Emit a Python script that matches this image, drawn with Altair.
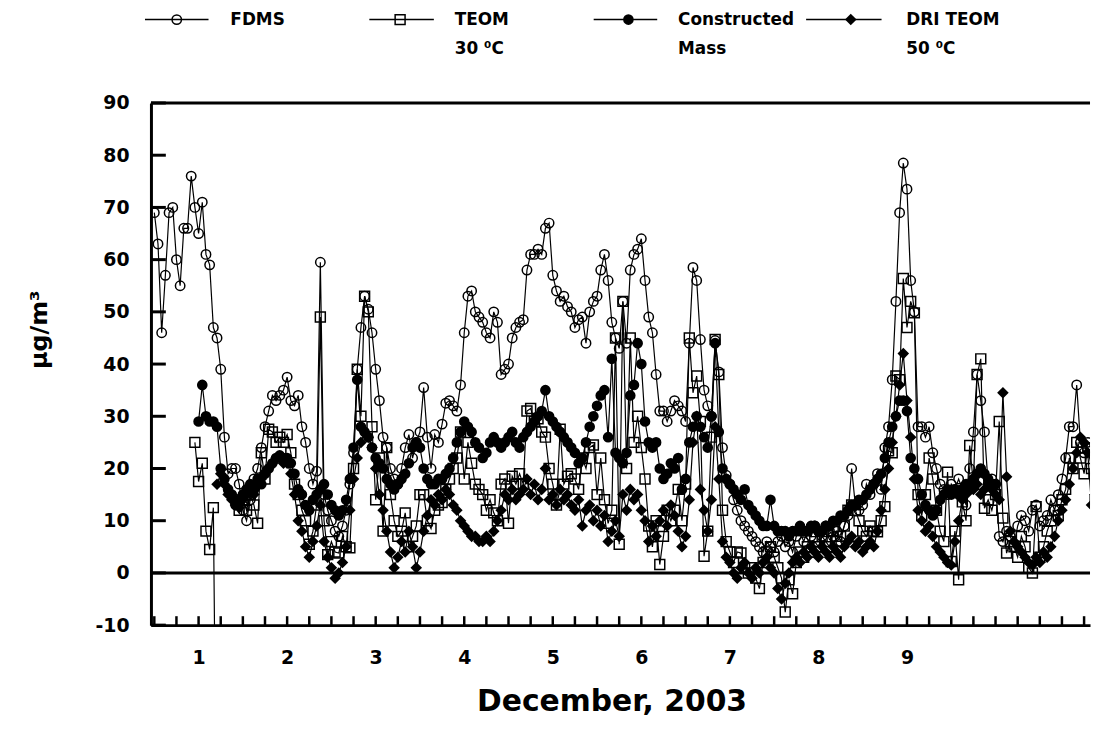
import altair as alt
import pandas as pd

N = None
# Hourly readings, starting at day 0.5 (one value per hour)
fdms = [
    69, 63, 46, 57, 69, 70, 60, 55, 66, 66, 76, 70,
    65, 71, 61, 59, 47, 45, 39, 26, 19, 20, 20, 17,
    12, 10, 14, 18, 20, 24, 28, 31, 34, 33, 34, 35,
    37.5, 33, 32, 34, 28, 25, 20, 17, 19.5, 59.5, 15, 12,
    10, 8, 7, 9, 12, 17, 23, 39, 47, 53, 50.5, 46,
    39, 33, 26, 24, 20, 18, 17, 20, 24, 26.5, 22, 25,
    27, 35.5, 26, 20, 26.5, 25, 28.5, 32.5, 33, 32, 31, 36,
    46, 53, 54, 50, 49, 48, 46, 45, 50, 48, 38, 39,
    40, 45, 47, 48, 48.5, 58, 61, 61, 62, 61, 66, 67,
    57, 54, 52, 53, 51, 50, 47, 48.5, 49, 44, 50, 52,
    53, 58, 61, 56, 48, 45, 43, 52, 44, 58, 61, 62,
    64, 56, 49, 46, 38, 31, 31, 29, 31, 33, 32, 31,
    29, 44, 58.5, 56, 44.7, 35, 32, 30, 44.5, 38.5, 24, 18.7,
    17, 14, 12, 10, 9, 8, 7, 6, 5, 4, 6, 5,
    4, 6, 7, 5, 6, 4, 7, 8, 6, 8, 7, 9,
    8, 7, 9, 8, 7, 8, 6, 9, 11, 20, 13, 12,
    13, 17, 15, 17, 19, 16, 24, 28, 37, 52, 69, 78.5,
    73.5, 56, 50, 28, 28, 26, 28, 23, 20, 17, 16, 15,
    17, 16, 18, 16, 13, 20, 27, 38, 33, 27, 17, 18,
    17, 7, 6, 8, 7, 5, 9, 11, 10, 8, 12, 13,
    9, 10, 11, 14, 12, 15, 18, 22, 28, 28, 36, 25,
    23, 25, 24, 19, 18,
]
teom = [
    N, N, N, N, N, N, N, N, N, N, N, 25,
    17.5, 21, 8, 4.5, 12.5, -60, N, N, N, N, N, 12,
    14, 12, 15, 13, 9.5, 23, 18, 27.5, 27, 25, 26, 25,
    26.5, 23, 17, 15, 12, 10, 5.5, 8, 13, 49, 10, 3.5,
    6, 4, 3.8, 7, 5, 4.8, 20, 39, 30, 53, 50, 28,
    14, 22, 8, 24, 15, 10, 7, 8, 11.5, 5, 7, 9,
    15, 15, 10, 8.5, 12, 13, 13.5, 16, 18, 20, 22, 27,
    18, 25, 21, 17, 16, 15, 12, 14, 11.5, 10, 17, 18,
    9.5, 18.5, 17, 19, 17, 31, 31.5, 29, 29.5, 27, 26, 20,
    17, 13, 27.5, 17, 18.5, 19, 18, 16, 22, 20, 24, 24.5,
    15, 22, 14, 9.5, 12, 45, 5.5, 52, 20, 45, 25, 30,
    24, 18, 9, 5, 10, 1.6, 7, 12, 10, 12, 16, 10,
    17, 45, 34.5, 37.7, 29, 3.2, 8, 26, 44.7, 38, 12, 6,
    4, 2, 4, 3.8, 1, 0, 1, -1, -3, 2, 4, 5,
    3, 1, -1, -7.5, -1.3, -4, 2, 4, 3, 5, 4, 6,
    5, 7, 6, 5, 8, 6, 7, 9, 12, 13, 12, 10,
    8, 7, 9, 8, 7.9, 10, 12.7, 23.4, 23, 37.7, 37, 56.4,
    47, 52, 49.8, 15, 11, 15, 22, 18, 12, 8, 6, 19.3,
    2.2, 8, -1.3, 13.6, 10, 24.4, 17, 38, 41, 12.4, 14, 12,
    15, 29, 10.5, 3.8, 6, 5, 3, 7, 5, 1, 0, 12.7,
    3, 5, 8, 10, 12, 11, 14, 16, 22, 20, 25, 22,
    19, 24, 20, 14, 15,
]
constructed = [
    N, N, N, N, N, N, N, N, N, N, N, N,
    29, 36, 30, 29, 29, 28, 20, 18, 16, 15, 13, 14,
    15, 16, 17, 16, 18, 17, 19, 20, 21, 22, 22.5, 22,
    22, 21, 19, 16, 15, 13, 12, 14, 15, 16, 17, 15,
    13, 12, 11, 12, 14, 18, 24, 37, 28, 27, 26, 24,
    22, 21, 20, 18, 17, 16, 17, 18, 19, 21, 24, 25,
    24, 20, 18, 17, 17, 18, 18, 19, 20, 22, 25, 27,
    29, 28, 27, 25, 24, 22, 23, 25, 26, 25, 24, 25,
    26, 27, 25, 24, 26, 27, 28, 29, 30, 31, 35, 30,
    29, 28, 27, 26, 25, 24, 23, 21, 22, 25, 28, 30,
    32, 34, 35, 26, 41, 23, 22, 21, 23, 34, 36, 44,
    40, 29, 25, 24, 25, 20, 18, 19, 21, 20, 22, 16,
    18, 25, 28, 30, 28, 26, 24, 30, 44, 27, 20, 18,
    17, 16, 15, 14, 16, 13, 12, 11, 10, 9, 9, 14,
    9, 8, 8, 8, 7, 8, 8, 9, 8, 8, 9, 9,
    8, 8, 9, 9, 10, 10, 11, 11, 12, 13, 13, 14,
    14, 15, 16, 17, 18, 19, 22, 25, 28, 30, 33, 33,
    31, 22, 20, 18, 15, 13, 12, 11, 12, 14, 15, 16,
    15, 16, 15, 16, 17, 16, 18, 19, 20, 19, 18, 17,
    17,
]
dri = [
    N, N, N, N, N, N, N, N, N, N, N, N,
    N, N, N, N, N, 17, 19, 17, 15, 14, 13, 12.5,
    14, 15, 16, 15, 17, 18, 19, 20, 21, 22, 22, 21,
    21, 19, 15, 10, 8, 5, 3, 6, 9, 13, 6, 3,
    1, -1, 0, 2, 5, 12, 18, 22, 25, 27, 26, 24,
    20, 15, 12, 8, 4, 1, 3, 6, 4, 8, 5, 1,
    4, 8, 11, 14, 13, 15, 14, 16, 15, 13, 12, 10,
    9, 8, 7, 7, 6, 6, 7, 6, 8, 10, 12, 15,
    14, 16, 14, 15, 16, 18, 15, 17, 14, 16, 20, 14,
    15, 13, 16, 14, 15, 13, 12, 14, 9, 12, 13, 10,
    12, 9, 11, 6, 8, 10, 7, 15, 12, 16, 14, 15,
    12, 10, 6, 9, 7, 10, 12, 9, 13, 11, 8, 5,
    7, 14, 25, 30, 16, 12, 8, 14, 28, 18, 6, 3,
    2, 0, -1, 1, 2, 0, -1, 1, 0, 2, 3, 1,
    0, -3, -5, -2, 0, 2, 3, 2, 4, 3, 5, 4,
    3, 5, 4, 3, 5, 4, 3, 5, 6, 7, 5, 6,
    4, 5, 6, 5, 8, 12, 16, 20, 25, 30, 36, 42,
    33, 26, 18, 12, 10, 8, 9, 7, 5, 4, 3, 2,
    1.5, 6, 10, 14, 15, 16, 16, 17, 15, 16, 17, 16,
    15, 14, 34.5, 18.4, 8, 6, 5, 4, 3, 2, 1.5, 3,
    2, 4, 3, 5, 7, 10, 12, 14, 17, 20, 23, 26,
    25, 23, 13, 15, 13,
]

day_labels = [1, 2, 3, 4, 5, 6, 7, 8, 9]
y_ticks = [-10, 0, 10, 20, 30, 40, 50, 60, 70, 80, 90]
minor_days = [0.5 + 0.25 * i for i in range(43)]
frame_lines = [0, 90]

legend_line1 = ["FDMS", "TEOM", "Constructed", "DRI TEOM"]
legend_line2 = ["", "30 \u2070C", "Mass", "50 \u2070C"]

START_DAY = 0.5
STEP = 1 / 24


def to_rows(name, vals):
    rows = []
    seg = 0
    for i, v in enumerate(vals):
        if v is None:
            seg += 1
            continue
        rows.append({"t": START_DAY + i * STEP, "v": v, "series": name, "seg": f"{name}-{seg}"})
    return rows


df = pd.DataFrame(
    to_rows("FDMS", fdms) + to_rows("TEOM", teom)
    + to_rows("Constructed", constructed) + to_rows("DRI", dri)
)

FONT = "DejaVu Sans"
W, H = 946, 526
xs = alt.Scale(domain=[0.462, 11.067], nice=False, zero=False)
ys = alt.Scale(domain=[-10, 90], nice=False, zero=False)

x_axis = alt.Axis(
    values=day_labels, format="d", title="December, 2003",
    titleFont=FONT, titleFontSize=30, titleFontWeight="bold", titleColor="black",
    titleX=464, titleY=86, titleAlign="center", titleBaseline="alphabetic",
    labelFont=FONT, labelFontSize=19, labelFontWeight="bold", labelColor="black",
    labelPadding=24, ticks=False, tickSize=0, grid=False,
    domainColor="black", domainWidth=3, labelFlush=False, labelOverlap=False,
)
y_axis = alt.Axis(
    values=y_ticks, title="\u00b5g/m\u00b3", labelExpr="'' + datum.value",
    titleFont=FONT, titleFontSize=24, titleFontWeight="bold", titleColor="black",
    titleAngle=270, titleX=-112, titleY=228, titleAlign="center", titleBaseline="middle",
    labelFont=FONT, labelFontSize=19, labelFontWeight="bold", labelColor="black",
    labelPadding=22, ticks=False, tickSize=0, grid=False,
    domainColor="black", domainWidth=3, labelFlush=False, labelOverlap=False,
)


def X(field):
    return alt.X(field, scale=xs, axis=x_axis, title="December, 2003")


def Y(field):
    return alt.Y(field, scale=ys, axis=y_axis, title="\u00b5g/m\u00b3")


base = alt.Chart(df)

lines = base.mark_line(color="black", strokeWidth=1.2, clip=True).encode(
    x=X("t:Q"), y=Y("v:Q"), detail="seg:N",
)


def pts(name, shape, filled, size):
    return base.transform_filter(alt.datum.series == name).mark_point(
        shape=shape, filled=filled, size=size, color="black",
        strokeWidth=1.5, opacity=1, clip=True,
    ).encode(x=X("t:Q"), y=Y("v:Q"))


p_fdms = pts("FDMS", "circle", False, 90)
p_teom = pts("TEOM", "square", False, 100)
p_con = pts("Constructed", "circle", True, 115)
p_dri = pts("DRI", "diamond", True, 135)

frame = alt.Chart(pd.DataFrame({"v": frame_lines})).mark_rule(
    color="black", strokeWidth=3
).encode(y=Y("v:Q"))

bottom_ticks = alt.Chart(pd.DataFrame({"t": minor_days})).mark_rule(
    color="black", strokeWidth=2.5
).encode(x=X("t:Q"), y=alt.value(H), y2=alt.value(H - 9))

left_ticks = alt.Chart(pd.DataFrame({"v": y_ticks})).mark_rule(
    color="black", strokeWidth=3
).encode(y=Y("v:Q"), x=alt.value(0), x2=alt.value(15))

# Legend (layout positions in pixels relative to the plot area)
one = pd.DataFrame({"k": [0]})
ROW1, ROW2 = -84, -54
leg_line_x = [(-6, 58), (220, 285), (446, 510), (660, 736)]
leg_sym_x = [26, 251, 481, 705]
leg_text_x = [80, 306, 531, 761]
leg_shapes = [("circle", False, 90), ("square", False, 100), ("circle", True, 115), ("diamond", True, 135)]

legend_layers = []
for i in range(4):
    x1, x2 = leg_line_x[i]
    legend_layers.append(
        alt.Chart(one).mark_rule(color="black", strokeWidth=1.5).encode(
            x=alt.value(x1), x2=alt.value(x2), y=alt.value(ROW1)
        )
    )
    shp, fl, sz = leg_shapes[i]
    legend_layers.append(
        alt.Chart(one).mark_point(shape=shp, filled=fl, size=sz, color="black",
                                  strokeWidth=1.5, opacity=1).encode(
            x=alt.value(leg_sym_x[i]), y=alt.value(ROW1)
        )
    )
    legend_layers.append(
        alt.Chart(one).mark_text(align="left", baseline="middle", font=FONT,
                                 fontWeight="bold", fontSize=17, color="black").encode(
            x=alt.value(leg_text_x[i]), y=alt.value(ROW1), text=alt.value(legend_line1[i])
        )
    )
    if legend_line2[i]:
        legend_layers.append(
            alt.Chart(one).mark_text(align="left", baseline="middle", font=FONT,
                                     fontWeight="bold", fontSize=17, color="black").encode(
                x=alt.value(leg_text_x[i]), y=alt.value(ROW2), text=alt.value(legend_line2[i])
            )
        )

chart = alt.layer(
    lines, p_fdms, p_teom, p_con, p_dri, frame, bottom_ticks, left_ticks, *legend_layers
).properties(
    width=W, height=H,
    autosize=alt.AutoSizeParams(type="none"),
    padding={"left": 144, "top": 93, "right": 2, "bottom": 110},
).configure_view(stroke=None)

chart.save("out.html", embed_options={"renderer": "svg", "actions": False})
